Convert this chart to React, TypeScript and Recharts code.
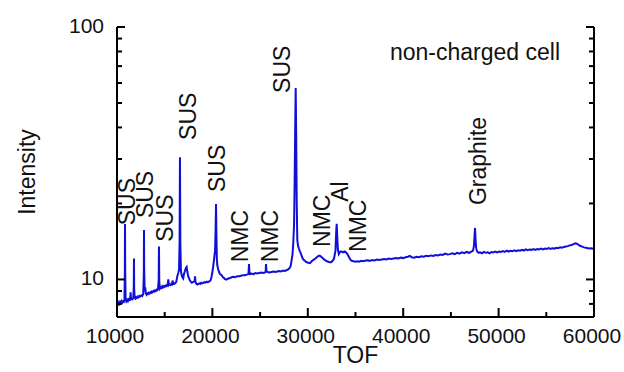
import React from 'react';
import { LineChart, Line, XAxis, YAxis, ReferenceDot } from 'recharts';

// TOF spectrum of the non-charged cell, [TOF, intensity]
const spectrum: [number, number][] = [
  [10000, 8.3], [10080, 7.95], [10160, 8.1], [10240, 8.0], [10320, 8.15], [10400, 8.05], [10480, 8.2],
  [10560, 8.1], [10640, 8.2], [10720, 8.15], [10780, 8.25], [10820, 10.5], [10840, 16.6], [10860, 11.0],
  [10900, 8.4], [10980, 8.2], [11060, 8.3], [11140, 8.2], [11220, 8.35], [11300, 8.3], [11380, 8.4],
  [11430, 8.9], [11470, 8.35], [11550, 8.4], [11630, 8.35], [11710, 8.45], [11760, 9.5], [11780, 12.1],
  [11800, 9.2], [11850, 8.5], [11930, 8.4], [12010, 8.5], [12090, 8.45], [12170, 8.55], [12250, 8.5],
  [12330, 8.6], [12410, 8.55], [12490, 8.6], [12570, 8.65], [12650, 8.6], [12750, 8.75], [12810, 10.5],
  [12830, 15.7], [12850, 11.0], [12900, 9.0], [12960, 9.3], [13020, 8.8], [13100, 8.7], [13180, 8.8],
  [13260, 8.75], [13340, 8.85], [13420, 8.8], [13500, 8.9], [13580, 8.85], [13660, 8.95], [13740, 8.9],
  [13820, 9.0], [13900, 8.95], [13980, 9.05], [14060, 9.0], [14140, 9.1], [14220, 9.05], [14300, 9.15],
  [14370, 10.0], [14400, 13.5], [14430, 9.8], [14500, 9.2], [14580, 9.3], [14660, 9.25], [14740, 9.4],
  [14820, 9.3], [14900, 9.4], [14980, 9.35], [15060, 9.45], [15140, 9.4], [15220, 9.5], [15300, 9.45],
  [15380, 10.0], [15440, 9.5], [15520, 9.55], [15600, 9.5], [15680, 9.6], [15760, 9.55], [15840, 9.9],
  [15900, 9.6], [15980, 9.6], [16060, 9.65], [16140, 9.7], [16220, 9.8], [16320, 10.3], [16420, 10.6],
  [16500, 10.9], [16560, 14.0], [16600, 30.5], [16640, 14.0], [16700, 10.8], [16780, 10.4], [16860, 10.2],
  [16940, 10.1], [17020, 10.5], [17120, 10.8], [17220, 11.1], [17300, 11.2], [17380, 10.7], [17460, 10.3],
  [17560, 10.1], [17640, 9.9], [17740, 9.8], [17840, 9.7], [17940, 9.75], [18060, 9.8], [18140, 9.85],
  [18180, 10.3], [18220, 9.8], [18320, 9.6], [18420, 9.55], [18520, 9.6], [18620, 9.65], [18720, 9.6],
  [18820, 9.7], [18920, 9.65], [19020, 9.7], [19120, 9.75], [19220, 9.7], [19320, 9.75], [19420, 9.8],
  [19520, 9.75], [19620, 9.8], [19720, 9.85], [19820, 9.95], [19920, 10.3], [20050, 11.0], [20150, 11.8],
  [20280, 13.0], [20340, 16.0], [20380, 19.9], [20420, 15.0], [20470, 12.0], [20510, 11.4], [20600, 11.0],
  [20700, 10.7], [20800, 10.5], [20970, 10.4], [21100, 10.2], [21200, 10.15], [21300, 10.05], [21400, 10.0],
  [21500, 10.0], [21600, 10.05], [21700, 10.1], [21800, 10.1], [21900, 10.15], [22000, 10.2], [22200, 10.25],
  [22400, 10.2], [22600, 10.3], [22800, 10.3], [23000, 10.35], [23200, 10.4], [23400, 10.4], [23600, 10.45],
  [23780, 10.5], [23840, 11.5], [23880, 10.7], [23960, 10.5], [24100, 10.55], [24300, 10.5], [24500, 10.6],
  [24700, 10.55], [24900, 10.6], [25100, 10.65], [25300, 10.6], [25500, 10.65], [25580, 10.7], [25620, 11.5],
  [25660, 10.8], [25800, 10.7], [26000, 10.65], [26200, 10.7], [26400, 10.75], [26600, 10.7], [26800, 10.75],
  [27000, 10.8], [27200, 10.75], [27400, 10.85], [27600, 10.8], [27800, 10.9], [27950, 10.95], [28100, 11.1],
  [28200, 11.3], [28300, 11.9], [28400, 12.6], [28480, 14.0], [28560, 16.5], [28620, 24.0], [28680, 40.0],
  [28730, 57.3], [28780, 38.0], [28840, 20.0], [28900, 14.3], [28980, 13.6], [29080, 13.2], [29180, 12.9],
  [29300, 12.6], [29420, 12.2], [29540, 12.0], [29660, 11.9], [29780, 11.75], [29900, 11.7], [30050, 11.65],
  [30230, 11.6], [30400, 11.8], [30600, 11.95], [30800, 12.1], [31000, 12.3], [31150, 12.4], [31280, 12.4],
  [31400, 12.3], [31550, 12.15], [31700, 12.0], [31850, 11.9], [32000, 11.8], [32150, 11.75], [32300, 11.7],
  [32450, 11.7], [32600, 11.85], [32750, 12.1], [32900, 13.0], [32980, 15.5], [33030, 16.6], [33080, 15.0],
  [33150, 13.2], [33250, 12.6], [33350, 12.8], [33450, 12.9], [33550, 12.9], [33700, 12.8], [33850, 12.9],
  [34000, 12.8], [34150, 12.6], [34300, 12.3], [34450, 12.0], [34600, 11.85], [34800, 11.8], [35000, 11.75],
  [35200, 11.8], [35400, 11.75], [35600, 11.85], [35800, 11.8], [36000, 11.85], [36250, 11.9], [36500, 11.85],
  [36750, 11.95], [37000, 11.9], [37250, 12.0], [37500, 11.95], [37750, 12.0], [38000, 12.05], [38250, 12.0],
  [38500, 12.1], [38750, 12.05], [39000, 12.1], [39250, 12.15], [39500, 12.1], [39750, 12.2], [40000, 12.15],
  [40250, 12.25], [40500, 12.3], [40700, 12.4], [40900, 12.25], [41150, 12.2], [41400, 12.3], [41650, 12.25],
  [41900, 12.35], [42150, 12.3], [42400, 12.4], [42650, 12.35], [42900, 12.45], [43150, 12.4], [43400, 12.5],
  [43650, 12.45], [43900, 12.55], [44150, 12.5], [44400, 12.65], [44650, 12.55], [44900, 12.6], [45150, 12.7],
  [45400, 12.6], [45650, 12.75], [45900, 12.65], [46150, 12.8], [46400, 12.7], [46650, 12.85], [46900, 12.75],
  [47150, 12.9], [47320, 13.0], [47420, 13.6], [47480, 15.0], [47530, 16.0], [47580, 14.5], [47650, 13.3],
  [47750, 12.9], [47900, 12.75], [48050, 12.8], [48250, 12.7], [48450, 12.85], [48650, 12.75], [48850, 12.8],
  [49050, 12.7], [49250, 12.85], [49450, 12.8], [49650, 12.9], [49850, 12.8], [50050, 12.9], [50250, 12.85],
  [50450, 12.95], [50650, 12.85], [50850, 13.0], [51050, 12.9], [51250, 13.0], [51450, 12.95], [51650, 13.05],
  [51850, 12.95], [52050, 13.05], [52250, 13.0], [52450, 13.1], [52650, 13.0], [52850, 13.15], [53050, 13.05],
  [53250, 13.15], [53450, 13.1], [53650, 13.2], [53850, 13.1], [54050, 13.2], [54250, 13.15], [54450, 13.25],
  [54650, 13.15], [54850, 13.25], [55050, 13.2], [55250, 13.3], [55450, 13.2], [55650, 13.3], [55850, 13.25],
  [56050, 13.35], [56250, 13.3], [56450, 13.4], [56650, 13.35], [56850, 13.45], [57050, 13.5], [57250, 13.55],
  [57450, 13.65], [57650, 13.7], [57850, 13.8], [58050, 13.9], [58200, 13.85], [58350, 13.75], [58550, 13.6],
  [58750, 13.5], [58950, 13.4], [59150, 13.35], [59350, 13.3], [59550, 13.25], [59750, 13.3], [60000, 13.2],
];

const xTicks = [10000, 15000, 20000, 25000, 30000, 35000, 40000, 45000, 50000, 55000, 60000];
const yTicks = [8, 9, 10, 20, 30, 40, 50, 60, 70, 80, 90, 100];
const yLabelled = [10, 100];

// peak assignments: label, TOF, intensity at the start of the (rotated) text
const peakNames = ['SUS', 'SUS', 'SUS', 'SUS', 'SUS', 'NMC', 'NMC', 'SUS', 'NMC', 'Al', 'NMC', 'Graphite'];
const peakTof = [11100, 12930, 15030, 17440, 20480, 22890, 26030, 27290, 31480, 33370, 35260, 47830];
const peakAt = [16.4, 17.5, 14.1, 35.7, 22.2, 11.7, 11.7, 54.8, 13.45, 20.3, 12.85, 19.7];

const data = spectrum.map(([tof, v]) => ({ tof, v }));

const FONT = '"Liberation Sans", Arial, sans-serif';

const BottomTick = (props: any) => {
  const { x, y, payload } = props;
  const major = payload.value % 10000 === 0;
  return (
    <g>
      <line x1={x} y1={y} x2={x} y2={y - (major ? 9 : 5)} stroke="#000" strokeWidth={2} />
      {major && (
        <text x={x - 2} y={y + 18} textAnchor="middle" dominantBaseline="central" fontSize={21} fontFamily={FONT} fill="#111">
          {payload.value}
        </text>
      )}
    </g>
  );
};

const TopTick = (props: any) => {
  const { x, y, payload } = props;
  const major = payload.value % 10000 === 0;
  return <line x1={x} y1={y} x2={x} y2={y + (major ? 9 : 5)} stroke="#000" strokeWidth={2} />;
};

const LeftTick = (props: any) => {
  const { x, y, payload } = props;
  const major = yLabelled.includes(payload.value);
  return (
    <g>
      <line x1={x} y1={y} x2={x + (major ? 8 : 5)} y2={y} stroke="#000" strokeWidth={2} />
      {major && (
        <text x={x - 13} y={y - 2} textAnchor="end" dominantBaseline="central" fontSize={21} fontFamily={FONT} fill="#111">
          {payload.value}
        </text>
      )}
    </g>
  );
};

const RightTick = (props: any) => {
  const { x, y, payload } = props;
  const major = yLabelled.includes(payload.value);
  return <line x1={x} y1={y} x2={x - (major ? 8 : 5)} y2={y} stroke="#000" strokeWidth={2} />;
};

const RotatedLabel = (props: any) => {
  const { viewBox, value } = props;
  const x = viewBox.x;
  const y = viewBox.y;
  return (
    <text x={x} y={y} transform={`rotate(-90 ${x} ${y})`} textAnchor="start" dominantBaseline="central" fontSize={23} fontFamily={FONT} fill="#111">
      {value}
    </text>
  );
};

export default function App() {
  return (
    <div style={{ position: 'absolute', left: 0, top: 0, background: '#fff' }}>
      <LineChart width={624} height={372} data={data} margin={{ top: 27, right: 0, bottom: 0, left: 0 }}>
        <XAxis
          xAxisId="b"
          dataKey="tof"
          type="number"
          domain={[10000, 60000]}
          ticks={xTicks}
          interval={0}
          allowDataOverflow
          height={55}
          tickSize={0}
          tickMargin={0}
          tickLine={false}
          axisLine={{ stroke: '#000', strokeWidth: 2 }}
          tick={<BottomTick />}
          label={{
            value: 'TOF',
            content: ({ viewBox }: any) => (
              <text x={viewBox.x + viewBox.width / 2} y={viewBox.y + 38} textAnchor="middle" dominantBaseline="central" fontSize={23} fontFamily={FONT} fill="#111">
                TOF
              </text>
            ),
          }}
        />
        <XAxis
          xAxisId="t"
          orientation="top"
          dataKey="tof"
          type="number"
          domain={[10000, 60000]}
          ticks={xTicks}
          interval={0}
          allowDataOverflow
          height={0}
          tickSize={0}
          tickMargin={0}
          tickLine={false}
          axisLine={{ stroke: '#000', strokeWidth: 2 }}
          tick={<TopTick />}
        />
        <YAxis
          yAxisId="l"
          scale="log"
          type="number"
          domain={[7.1, 100]}
          ticks={yTicks}
          interval={0}
          allowDataOverflow
          width={117}
          tickSize={0}
          tickMargin={0}
          tickLine={false}
          axisLine={{ stroke: '#000', strokeWidth: 2 }}
          tick={<LeftTick />}
          label={{
            value: 'Intensity',
            content: ({ viewBox }: any) => {
              const cx = 27;
              const cy = viewBox.y + viewBox.height / 2;
              return (
                <text x={cx} y={cy} transform={`rotate(-90 ${cx} ${cy})`} textAnchor="middle" dominantBaseline="central" fontSize={23} fontFamily={FONT} fill="#111">
                  Intensity
                </text>
              );
            },
          }}
        />
        <YAxis
          yAxisId="r"
          orientation="right"
          scale="log"
          type="number"
          domain={[7.1, 100]}
          ticks={yTicks}
          interval={0}
          allowDataOverflow
          width={30}
          tickSize={0}
          tickMargin={0}
          tickLine={false}
          axisLine={{ stroke: '#000', strokeWidth: 2 }}
          tick={<RightTick />}
        />
        <Line
          xAxisId="b"
          yAxisId="l"
          type="linear"
          dataKey="v"
          stroke="#0f0fd8"
          strokeWidth={2}
          dot={false}
          isAnimationActive={false}
        />
        <Line
          xAxisId="t"
          yAxisId="r"
          type="linear"
          dataKey="v"
          stroke="none"
          dot={false}
          legendType="none"
          isAnimationActive={false}
        />
        {peakNames.map((name, i) => (
          <ReferenceDot
            key={i}
            xAxisId="b"
            yAxisId="l"
            x={peakTof[i]}
            y={peakAt[i]}
            r={0}
            stroke="none"
            fill="none"
            label={<RotatedLabel value={name} />}
          />
        ))}
        <ReferenceDot
          xAxisId="b"
          yAxisId="l"
          x={38610}
          y={79.6}
          r={0}
          stroke="none"
          fill="none"
          label={({ viewBox }: any) => (
            <text x={viewBox.x} y={viewBox.y} textAnchor="start" dominantBaseline="central" fontSize={23} fontFamily={FONT} fill="#111">
              non-charged cell
            </text>
          )}
        />
      </LineChart>
    </div>
  );
}
